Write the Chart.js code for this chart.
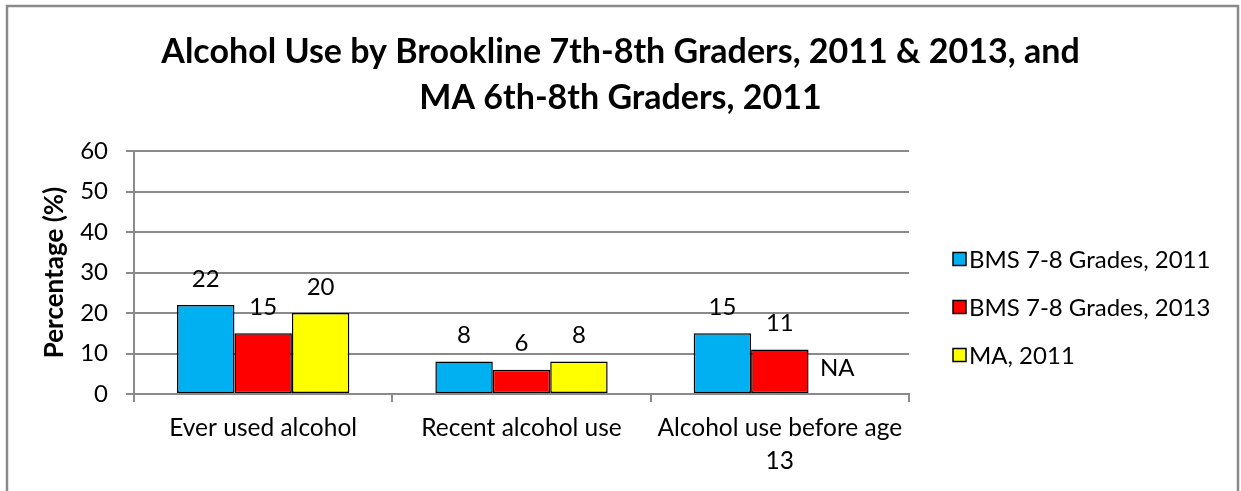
<!DOCTYPE html>
<html>
<head>
<meta charset="utf-8">
<script src="https://cdn.jsdelivr.net/npm/chart.js@4.4.1/dist/chart.umd.min.js"></script>
<style>
  html, body { margin: 0; padding: 0; background: #fff; }
  canvas { display: block; }
</style>
</head>
<body>
<canvas id="chart" width="1241" height="491"></canvas>
<script>
// data
const categories = ["Ever used alcohol", "Recent alcohol use", ["Alcohol use before age", "13"]];
const seriesNames = ["BMS 7-8 Grades, 2011", "BMS 7-8 Grades, 2013", "MA, 2011"];
const bms2011 = [22, 8, 15];
const bms2013 = [15, 6, 11];
const ma2011 = [20, 8, null];
const yTicks = [0, 10, 20, 30, 40, 50, 60];
const titleLines = ["Alcohol Use by Brookline 7th-8th Graders, 2011 & 2013, and", "MA 6th-8th Graders, 2011"];

const colors = ["#00B0F0", "#FF0000", "#FFFF00"];
const gridColor = "#8a8a8a";
const font = "Lato";

// gray frame round the whole chart
const framePlugin = {
    id: "frame",
    beforeDraw(chart) {
        const ctx = chart.ctx;
        ctx.save();
        ctx.fillStyle = "#fff";
        ctx.fillRect(0, 0, chart.width, chart.height);
        ctx.strokeStyle = "#8a8a8a";
        ctx.lineWidth = 2.5;
        ctx.strokeRect(7, 6, chart.width - 10, chart.height + 20);
        ctx.restore();
    }
};

// numbers over the bars, "NA" where there is no value
const valueLabels = {
    id: "valueLabels",
    afterDatasetsDraw(chart) {
        const ctx = chart.ctx;
        const yScale = chart.scales.y;
        ctx.save();
        ctx.font = "24px " + font;
        ctx.fillStyle = "#000";
        ctx.textAlign = "center";
        ctx.textBaseline = "middle";
        chart.data.datasets.forEach((ds, di) => {
            chart.getDatasetMeta(di).data.forEach((bar, i) => {
                const v = ds.data[i];
                const y = v == null ? yScale.getPixelForValue(0) : bar.y;
                ctx.fillText(v == null ? "NA" : String(v), bar.x, y - 26);
            });
        });
        ctx.restore();
    }
};

// legend to the right of the plot, Excel style
const sideLegend = {
    id: "sideLegend",
    afterDraw(chart) {
        const ctx = chart.ctx;
        const area = chart.chartArea;
        const x = area.right + 44;
        const top = area.top + 108;
        ctx.save();
        ctx.font = "24px " + font;
        ctx.textBaseline = "middle";
        chart.data.datasets.forEach((ds, i) => {
            const y = top + i * 48;
            ctx.fillStyle = ds.backgroundColor;
            ctx.fillRect(x, y - 6.5, 13, 13);
            ctx.strokeStyle = "#000";
            ctx.lineWidth = 1.5;
            ctx.strokeRect(x, y - 6.5, 13, 13);
            ctx.fillStyle = "#000";
            ctx.fillText(ds.label, x + 16, y + 1);
        });
        ctx.restore();
    }
};

const datasets = [bms2011, bms2013, ma2011].map((values, i) => ({
    label: seriesNames[i],
    data: values,
    backgroundColor: colors[i],
    borderColor: "#000",
    borderWidth: 1.5,
    borderSkipped: false,
    categoryPercentage: 0.667,
    barPercentage: 1
}));

new Chart(document.getElementById("chart"), {
    type: "bar",
    data: { labels: categories, datasets },
    plugins: [framePlugin, valueLabels, sideLegend],
    options: {
        responsive: false,
        animation: false,
        layout: { padding: 0 },
        plugins: {
            legend: { display: false },
            tooltip: { enabled: false },
            title: {
                display: true,
                text: titleLines,
                color: "#000",
                font: { family: font, size: 34, weight: "bold", lineHeight: 46 / 34 },
                padding: { top: 29, bottom: 30 }
            }
        },
        scales: {
            x: {
                grid: { offset: true, drawOnChartArea: false, drawTicks: true, tickLength: 8, color: gridColor, lineWidth: 2 },
                border: { color: gridColor, width: 2 },
                ticks: { color: "#000", padding: 10, maxRotation: 0, font: { family: font, size: 24.5, lineHeight: 33 / 24.5 } },
                afterFit(scale) { scale.height = 97; }
            },
            y: {
                min: yTicks[0],
                max: yTicks[yTicks.length - 1],
                ticks: { stepSize: 10, color: "#000", padding: 18, font: { family: font, size: 24 } },
                grid: { color: gridColor, lineWidth: 2, tickLength: 8 },
                border: { color: gridColor, width: 2 },
                title: {
                    display: true,
                    text: "Percentage (%)",
                    color: "#000",
                    font: { family: font, size: 26, weight: "bold" },
                    padding: { top: 39, bottom: 0 }
                },
                afterFit(scale) { scale.width = 134; }
            },
            // empty right axis: keeps room for the legend without moving the title
            legendSpace: {
                type: "linear",
                position: "right",
                grid: { drawOnChartArea: false, drawTicks: false },
                border: { display: false },
                ticks: { display: false },
                afterFit(scale) { scale.width = 1241 - 909; }
            }
        }
    }
});
</script>
</body>
</html>
